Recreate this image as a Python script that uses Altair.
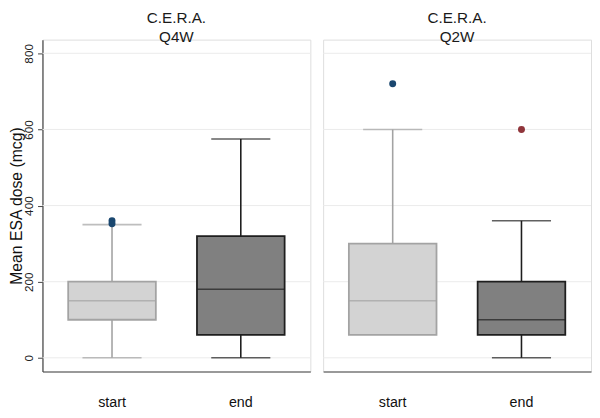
import altair as alt
import pandas as pd

# ---- data ----
panels = ["Q4W", "Q2W"]
box_panel = ["Q4W", "Q4W", "Q2W", "Q2W"]
box_group = ["start", "end", "start", "end"]
lower = [0, 0, 60, 0]
q1 = [100, 60, 60, 60]
median = [150, 180, 150, 100]
q3 = [200, 320, 300, 200]
upper = [350, 575, 600, 360]

out_panel = ["Q4W", "Q4W", "Q2W", "Q2W"]
out_group = ["start", "start", "start", "end"]
out_value = [360, 352, 720, 600]

groups = ["start", "end"]
fill_colors = ["#d3d3d3", "#808080"]
stroke_colors = ["#a3a3a3", "#1e1e1e"]
dot_colors = ["#1a476f", "#90353b"]
y_ticks = [0, 200, 400, 600, 800]

boxes = pd.DataFrame(dict(panel=box_panel, group=box_group, lower=lower,
                          q1=q1, median=median, q3=q3, upper=upper))
outs = pd.DataFrame(dict(panel=out_panel, group=out_group, value=out_value))
grid_df = pd.DataFrame(dict(v=y_ticks))

FONT = "Liberation Sans"
W, H = 272, 337
BOX_W, CAP_W = 89, 60
GRID = "#ebebeb"


def panel_chart(p, show_y):
    b = boxes[boxes.panel == p]
    o = outs[outs.panel == p]
    x = alt.X("group:N", scale=alt.Scale(domain=groups, paddingOuter=0.14, paddingInner=0.2),
              axis=alt.Axis(title=None, labelAngle=0, ticks=False, labelPadding=25,
                            labelFontSize=14.5, labelColor="#111", domainColor="#444",
                            domainWidth=1.2, grid=False, labelFont=FONT))
    yscale = alt.Scale(domain=[-36, 836], nice=False, zero=False)
    if show_y:
        yaxis = alt.Axis(values=y_ticks, title="Mean ESA dose (mcg)", titleFontSize=16,
                         titleFontWeight="normal", titleColor="#111", titleFont=FONT,
                         titleX=-34, titleBaseline="top",
                         labelAngle=270, labelAlign="center", labelBaseline="bottom",
                         labelFontSize=12, labelColor="#222", labelFont=FONT,
                         ticks=True, tickSize=5, tickColor="#444", labelPadding=2,
                         domainColor="#444", domainWidth=1.2, grid=False)
    else:
        yaxis = None
    stroke = alt.Color("group:N", scale=alt.Scale(domain=groups, range=stroke_colors), legend=None)
    fill = alt.Fill("group:N", scale=alt.Scale(domain=groups, range=fill_colors), legend=None)

    def Y(field):
        return alt.Y(field, scale=yscale, axis=yaxis)

    grid = alt.Chart(grid_df).mark_rule(color=GRID, strokeWidth=1).encode(y=Y("v:Q"))
    base = alt.Chart(b)
    lo_whisk = base.transform_filter("datum.lower < datum.q1").mark_rule(strokeWidth=1.6).encode(
        x=x, y=Y("lower:Q"), y2="q1:Q", color=stroke)
    hi_whisk = base.transform_filter("datum.upper > datum.q3").mark_rule(strokeWidth=1.6).encode(
        x=x, y=Y("q3:Q"), y2="upper:Q", color=stroke)
    lo_cap = base.transform_filter("datum.lower < datum.q1").mark_tick(
        size=CAP_W, thickness=1.6, orient="horizontal").encode(
        x=x, y=Y("lower:Q"), color=stroke)
    hi_cap = base.transform_filter("datum.upper > datum.q3").mark_tick(
        size=CAP_W, thickness=1.6, orient="horizontal").encode(
        x=x, y=Y("upper:Q"), color=stroke)
    box = base.mark_bar(size=BOX_W, strokeWidth=1.8).encode(
        x=x, y=Y("q1:Q"), y2="q3:Q", fill=fill, stroke=stroke)
    med = base.mark_tick(size=BOX_W, thickness=1.6, orient="horizontal").encode(
        x=x, y=Y("median:Q"), color=stroke)
    dots = alt.Chart(o).mark_circle(size=50, opacity=1).encode(
        x=x, y=Y("value:Q"),
        color=alt.Color("group:N", scale=alt.Scale(domain=groups, range=dot_colors), legend=None))

    return alt.layer(grid, lo_whisk, hi_whisk, box, med, lo_cap, hi_cap, dots).resolve_scale(
        color="independent").properties(
        width=W, height=H,
        title=alt.TitleParams(["C.E.R.A.", p], fontSize=15.5, fontWeight="normal", font=FONT,
                              color="#1a1a1a", anchor="middle", offset=-6, lineHeight=19))


chart = alt.hconcat(panel_chart("Q4W", True), panel_chart("Q2W", False), spacing=11).configure_view(
    stroke=None).configure(padding={"left": 0, "top": 0, "right": 0, "bottom": 0})

chart.save("out.html", embed_options={"renderer": "svg", "actions": False})
